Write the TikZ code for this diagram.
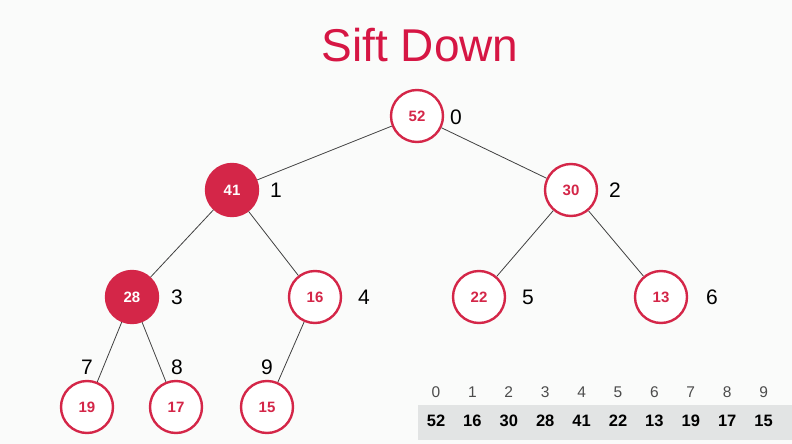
\documentclass[tikz,border=0pt]{standalone}
\usepackage{fontspec}
\setmainfont{Liberation Sans}
\definecolor{heapred}{RGB}{212,38,72}
\definecolor{titlered}{RGB}{214,22,68}
\definecolor{bandgray}{RGB}{226,228,228}
\definecolor{bg}{RGB}{250,251,250}
\begin{document}
\begin{tikzpicture}[x=1pt,y=-1pt,
  hnode/.style={circle,draw=heapred,line width=2.4pt,fill=white,minimum size=52pt,inner sep=0pt,
     text=heapred,font=\fontsize{15}{15}\selectfont\bfseries},
  hfull/.style={hnode,fill=heapred,text=white},
  idx/.style={font=\fontsize{21}{21}\selectfont,text=black},
  edge/.style={draw=black!75,line width=0.8pt},
  aidx/.style={font=\fontsize{15.5}{15.5}\selectfont,text=black!70},
  aval/.style={font=\fontsize{16.5}{16.5}\selectfont\bfseries,text=black}]
\fill[bg] (0,0) rectangle (792,444);
\useasboundingbox (0,0) rectangle (792,444);
\node[font=\fontsize{46}{46}\selectfont,text=titlered] (title) at (420,45) {Sift Down};
\fill[bandgray] (418,405) rectangle (792,440);
% nodes
\node[hnode] (n0) at (417,116) {52};
\node[hfull] (n1) at (232,190) {41};
\node[hnode] (n2) at (571,190) {30};
\node[hfull] (n3) at (132,297) {28};
\node[hnode] (n4) at (315,297) {16};
\node[hnode] (n5) at (479,297) {22};
\node[hnode] (n6) at (661,297) {13};
\node[hnode] (n7) at (87,407) {19};
\node[hnode] (n8) at (176,407) {17};
\node[hnode] (n9) at (267,407) {15};
% edges
\draw[edge] (n0) -- (n1);
\draw[edge] (n0) -- (n2);
\draw[edge] (n1) -- (n3);
\draw[edge] (n1) -- (n4);
\draw[edge] (n2) -- (n5);
\draw[edge] (n2) -- (n6);
\draw[edge] (n3) -- (n7);
\draw[edge] (n3) -- (n8);
\draw[edge] (n4) -- (n9);
% index labels
\node[idx] (i0) at (456,117) {0};
\node[idx] (i1) at (276,190) {1};
\node[idx] (i2) at (615,190) {2};
\node[idx] (i3) at (177,297) {3};
\node[idx] (i4) at (364,297) {4};
\node[idx] (i5) at (528,297) {5};
\node[idx] (i6) at (712,297) {6};
\node[idx] (i7) at (87,367) {7};
\node[idx] (i8) at (177,367) {8};
\node[idx] (i9) at (267,367) {9};
% array
\foreach \k/\v [count=\c from 0] in {0/52,1/16,2/30,3/28,4/41,5/22,6/13,7/19,8/17,9/15}{
  \node[aidx] (a\k) at (436+36.4*\c,392) {\k};
  \node[aval] (v\k) at (436+36.4*\c,421) {\v};
}
\end{tikzpicture}
\end{document}
